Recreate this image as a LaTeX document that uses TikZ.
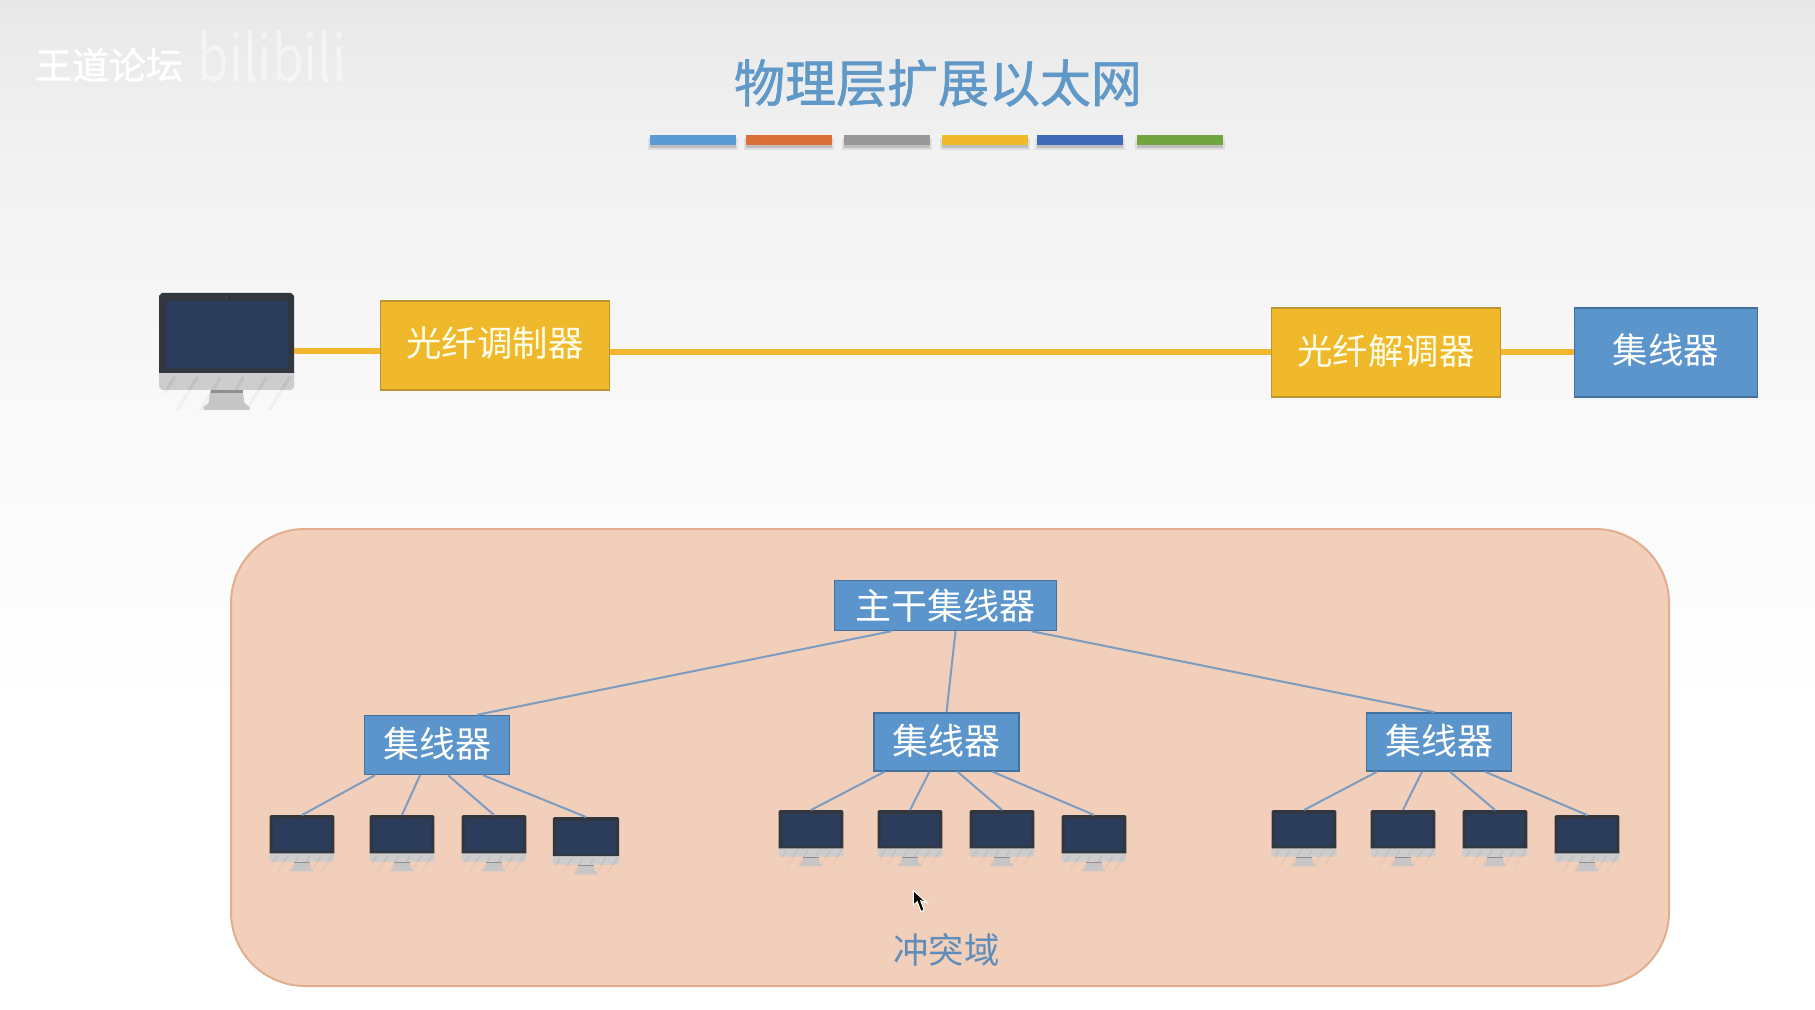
\documentclass[tikz,border=0pt]{standalone}
\usepackage{fontspec}
\setmainfont{Noto Sans CJK SC}
\newfontfamily\heavycjk[FakeBold=1.2]{Noto Sans CJK SC}
\usetikzlibrary{calc}
\definecolor{hubfill}{HTML}{5B95CC}
\definecolor{hubline}{HTML}{41719C}
\definecolor{yelfill}{HTML}{F0B92B}
\definecolor{yelline}{HTML}{BC9532}
\definecolor{yelwire}{HTML}{F0B72F}
\definecolor{wire}{HTML}{7C9CC2}
\definecolor{zonefill}{HTML}{F1CFBA}
\definecolor{zoneline}{HTML}{E3AE8E}
\definecolor{bezel}{HTML}{32363E}
\definecolor{screenc}{HTML}{2C3D5C}
\definecolor{chin}{HTML}{CDCDCD}
\definecolor{stripe}{HTML}{C1C1C1}
\definecolor{standc}{HTML}{C6C6C6}
\definecolor{standd}{HTML}{8F8F8F}
\definecolor{titlec}{HTML}{6098C8}
\definecolor{zonetext}{HTML}{5E8DBB}
% TikZ maps the central 25bp..75bp of a shading on to the path
\pgfdeclareverticalshading{slidebg}{100bp}{color(0bp)=(white); color(40bp)=(white); color(45bp)=(black!1); color(55bp)=(black!2.5); color(67bp)=(black!5); color(75bp)=(black!9); color(100bp)=(black!9)}
\newlength\monlw
\newcommand\lifted[2]{\raisebox{#1}[\height][\depth]{#2}}
\tikzset{
  hubbox/.style={draw=hubline,fill=hubfill,line width=.7pt,text=white,inner sep=0pt,font=\fontsize{18}{20}\selectfont},
  yelbox/.style={draw=yelline,fill=yelfill,line width=.7pt,text=white!92!yellow,inner sep=0pt,font=\fontsize{17.7}{20}\selectfont},
  link/.style={draw=wire,line width=1pt},
  fibre/.style={draw=yelwire,line width=3pt},
  monbox/.style={inner sep=0pt,outer sep=0pt,anchor=north},
  bar/.style={inner sep=0pt,minimum height=5pt,minimum width=43pt},
  pics/imac/.style={code={
    \begin{scope}
      \clip (-62,97) rectangle (62,117);
      \foreach \k in {-4,...,3}{\draw[black,opacity=.035,line width=\monlw] (\k*23-3,117) -- (\k*23+17,84);}
    \end{scope}
    \fill[standc] (-16,97) -- (16,97) -- (18,110) -- (23,114) -- (23,117) -- (-23,117) -- (-23,114) -- (-18,110) -- cycle;
    \fill[standd] (-16,97) rectangle (16,100.5);
    \fill[chin] (-67.5,75) -- (67.5,75) -- (67.5,94) -- (64.5,97) -- (-64.5,97) -- (-67.5,94) -- cycle;
    \begin{scope}
      \clip (-67.5,80) rectangle (67.5,97);
      \foreach \k in {-4,...,3}{\draw[stripe,line width=\monlw] (\k*23-3,117) -- (\k*23+17,84);}
    \end{scope}
    \fill[bezel] (-64.5,0) -- (64.5,0) -- (67.5,3) -- (67.5,80) -- (-67.5,80) -- (-67.5,3) -- cycle;
    \fill[screenc] (-61,8) rectangle (61,75);
    \fill[black!70] (0,4) circle (1.2);
  }}
}
\newcommand\imac[4]{%
  \setlength\monlw{#4\dimexpr 1.5pt\relax}%
  \node[monbox,minimum width=#4*67.5pt,minimum height=#4*58.5pt] (#1) at (#2,#3) {};
  \pic[scale=#4] at (#1.north) {imac};}
\begin{document}
\begin{tikzpicture}[x=.5pt,y=-.5pt]
\useasboundingbox (0,0) rectangle (1815,1010);
\shade[shading=slidebg] (0,0) rectangle (1815,1010);

% watermark
\node[text=white,font=\heavycjk\fontsize{18.5}{20}\selectfont] (wm) at (109,65) {王道论坛};
\node[text=white,opacity=.45,font=\fontsize{32}{34}\selectfont,xscale=.8] (wb) at (272,56) {bilibili};

% title and colour bars
\node[text=titlec,font=\heavycjk\fontsize{25.5}{28}\selectfont,inner sep=0pt] (title) at (938,83) {物理层扩展以太网};
\foreach \n/\xa/\c in {b1/693/5B9BD5,b2/788.5/D87038,b3/887/999999,b4/984.5/F0B92B,b5/1079.5/4069B8,b6/1179.5/70A540}{
  \definecolor{barc}{HTML}{\c}
  \fill[black,opacity=.07] (\xa-45,138) rectangle (\xa+45,150);
  \fill[black,opacity=.14] (\xa-43,138) rectangle (\xa+43,148);
  \node[bar,fill=barc] (\n) at (\xa,140.5) {};
}

% upper row
\imac{m0}{226.5}{293}{1}
\node[yelbox,minimum width=114.5pt,minimum height=44.5pt] (mod) at (495,345.5) {\lifted{1.1pt}{光纤调制器}};
\node[yelbox,minimum width=114.5pt,minimum height=44.5pt] (dem) at (1386,352.5) {\lifted{.5pt}{光纤解调器}};
\node[hubbox,minimum width=91.5pt,minimum height=44.5pt,font=\fontsize{17.7}{20}\selectfont] (hub) at (1666,352.5) {\lifted{1.1pt}{集线器}};
\path[fibre] (m0.east) -- (m0.east -| mod.west);
\path[fibre] (dem.west) -- (dem.west -| mod.east);
\path[fibre] (dem.east) -- (hub.west);

% collision domain
\draw[draw=zoneline,fill=zonefill,line width=1pt,rounded corners=37pt] (231,529) rectangle (1669,986);
\node[hubbox,minimum width=111pt,minimum height=25pt] (trunk) at (945.5,605.5) {主干集线器};
\node[hubbox,minimum width=72.5pt,minimum height=29.5pt] (h1) at (437,745) {\lifted{.5pt}{集线器}};
\node[hubbox,minimum width=72.5pt,minimum height=29pt] (h2) at (946.5,742) {\lifted{.5pt}{集线器}};
\node[hubbox,minimum width=72.5pt,minimum height=29pt] (h3) at (1439,742) {\lifted{.5pt}{集线器}};

\imac{a1}{302}{815}{.48}
\imac{a2}{402}{815}{.48}
\imac{a3}{494}{815}{.48}
\imac{a4}{586}{817}{.49}
\imac{b1m}{811}{810}{.48}
\imac{b2m}{910}{810}{.48}
\imac{b3m}{1002}{810}{.48}
\imac{b4m}{1094}{815}{.48}
\imac{c1}{1304}{810}{.48}
\imac{c2}{1403}{810}{.48}
\imac{c3}{1495}{810}{.48}
\imac{c4}{1587}{815}{.48}

\draw[link] ($(trunk.south)+(-54,0)$) -- ($(h1.north)+(40,0)$);
\draw[link] ($(trunk.south)+(10,0)$) -- (h2.north);
\draw[link] ($(trunk.south)+(86,0)$) -- ($(h3.north)+(-4,0)$);
\foreach \h/\p/\q/\r/\s in {h1/a1/a2/a3/a4,h2/b1m/b2m/b3m/b4m,h3/c1/c2/c3/c4}{
  \draw[link] ($(\h.south)+(-62,0)$) -- (\p.north);
  \draw[link] ($(\h.south)+(-17,0)$) -- (\q.north);
  \draw[link] ($(\h.south)+(11,0)$) -- (\r.north);
  \draw[link] ($(\h.south)+(46,0)$) -- (\s.north);
}

\node[text=zonetext,font=\fontsize{17.7}{20}\selectfont,inner sep=0pt] (zone) at (946.5,950) {冲突域};

% mouse pointer
\draw[fill=black,draw=white,line width=.5pt] (913.3,890.5) -- (913.3,905) -- (917.3,901.7) -- (921,911.7) -- (924,910) -- (920.7,900.7) -- (926.7,902.7) -- cycle;
\end{tikzpicture}
\end{document}
